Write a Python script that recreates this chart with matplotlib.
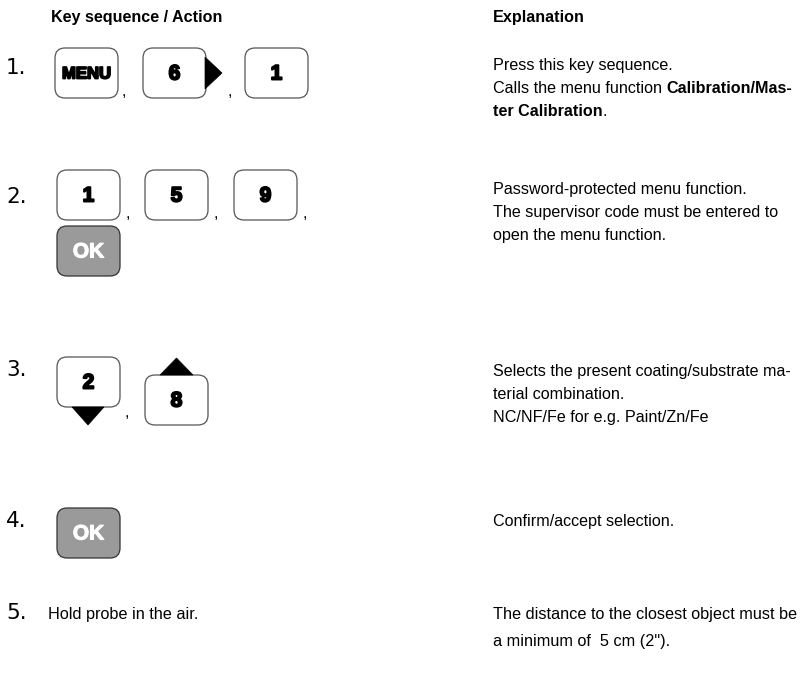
import matplotlib
matplotlib.use("Agg")
import matplotlib.pyplot as plt
import matplotlib.patheffects as pe
from matplotlib.patches import FancyBboxPatch, Polygon

# ---- content ----
header_left = "Key sequence / Action"
header_right = "Explanation"

step_labels = ["1.", "2.", "3.", "4.", "5."]

# explanation lines per step: list of lines, each line a list of (text, bold) segments
explanations = [
    [[("Press this key sequence.", False)],
     [("Calls the menu function ", False), ("Calibration/Mas-", True)],
     [("ter Calibration", True), (".", False)]],
    [[("Password-protected menu function.", False)],
     [("The supervisor code must be entered to", False)],
     [("open the menu function.", False)]],
    [[("Selects the present coating/substrate ma-", False)],
     [("terial combination.", False)],
     [("NC/NF/Fe for e.g. Paint/Zn/Fe", False)]],
    [[("Confirm/accept selection.", False)]],
]
step5_action = "Hold probe in the air."
step5_lines = ["The distance to the closest object must be", "a minimum of  5 cm (2\")."]

# ---- layout (pixels) ----
W, H = 801, 675
KEY_W, KEY_H = 63, 50
BODY = ["Liberation Sans", "DejaVu Sans"]
FS = 11.6
LINE = 23
TEXT_X = 493

fig = plt.figure(figsize=(W / 100, H / 100), dpi=100)
ax = fig.add_axes([0, 0, 1, 1])
ax.set_xlim(0, W)
ax.set_ylim(H, 0)
ax.axis("off")
renderer = fig.canvas.get_renderer()


def key(x, y, label, grey=False):
    face = "#9a9a9a" if grey else "white"
    edge = "#333333" if grey else "#555555"
    box = FancyBboxPatch((x, y), KEY_W, KEY_H, boxstyle="round,pad=0,rounding_size=10",
                         facecolor=face, edgecolor=edge, linewidth=0.9)
    ax.add_patch(box)
    cx, cy = x + KEY_W / 2, y + KEY_H / 2
    if label == "MENU":
        ax.text(cx, cy + 1, label, ha="center", va="center", fontsize=12, fontweight="bold",
                family=BODY, path_effects=[pe.withStroke(linewidth=1.3, foreground="black")])
    elif grey:
        ax.text(cx, cy + 1, label, ha="center", va="center", fontsize=15, fontweight="bold",
                family=BODY, color="white",
                path_effects=[pe.withStroke(linewidth=0.8, foreground="white")])
    else:
        ax.text(cx, cy + 1, label, ha="center", va="center", fontsize=15, fontweight="bold",
                family=BODY, path_effects=[pe.withStroke(linewidth=1.4, foreground="black")])


def comma(x, y):
    ax.text(x, y, ",", ha="left", va="baseline", fontsize=FS, family=BODY)


def rich_line(x, y, segments, fontsize=FS):
    for txt, bold in segments:
        t = ax.text(x, y, txt, ha="left", va="baseline", fontsize=fontsize,
                    fontweight="bold" if bold else "normal", family=BODY)
        x += t.get_window_extent(renderer=renderer).width


def tri(points):
    ax.add_patch(Polygon(points, closed=True, facecolor="black", edgecolor="black", lw=0.5))


# headers
ax.text(51, 22, header_left, fontsize=FS, fontweight="bold", family=BODY, va="baseline")
ax.text(TEXT_X, 22, header_right, fontsize=FS, fontweight="bold", family=BODY, va="baseline")

# step label baselines and first explanation baselines
label_base = [74, 203, 376, 527, 619]
text_base = [70, 194, 376, 526]

for lab, yb in zip(step_labels, label_base):
    ax.text(6, yb, lab, fontsize=15.5, family=["DejaVu Sans"], va="baseline")

for lines, yb in zip(explanations, text_base):
    for i, segs in enumerate(lines):
        rich_line(TEXT_X, yb + i * LINE, segs)

# step 1 keys
y1 = 48
key(55, y1, "MENU")
comma(122, y1 + KEY_H - 2)
key(143, y1, "6")
tri([(205, y1 + 9), (205, y1 + 41), (222, y1 + 25)])
comma(228, y1 + KEY_H - 2)
key(245, y1, "1")

# step 2 keys
y2 = 170
for kx, lab in zip([57, 145, 234], ["1", "5", "9"]):
    key(kx, y2, lab)
    comma(kx + 69, y2 + KEY_H - 2)
key(57, y2 + 56, "OK", grey=True)

# step 3 keys
y3 = 357
key(57, y3, "2")
tri([(72, y3 + KEY_H), (104, y3 + KEY_H), (88, y3 + KEY_H + 18)])
comma(125, y3 + KEY_H + 10)
y3b = y3 + 18
key(145, y3b, "8")
tri([(160, y3b), (193, y3b), (176.5, y3b - 17)])

# step 4 key
key(57, 508, "OK", grey=True)

# step 5: no condensed face installed, so size the text to the column width
probe = ax.text(0, 0, step5_lines[0], fontsize=14, family=BODY)
fs5 = 14 * (W - 4 - TEXT_X) / probe.get_window_extent(renderer=renderer).width
probe.remove()
ax.text(48, 619, step5_action, va="baseline", fontsize=fs5, family=BODY)
for i, line in enumerate(step5_lines):
    ax.text(TEXT_X, 619 + i * 27, line, va="baseline", fontsize=fs5, family=BODY)

fig.savefig("out.png", dpi=100, facecolor="white")
